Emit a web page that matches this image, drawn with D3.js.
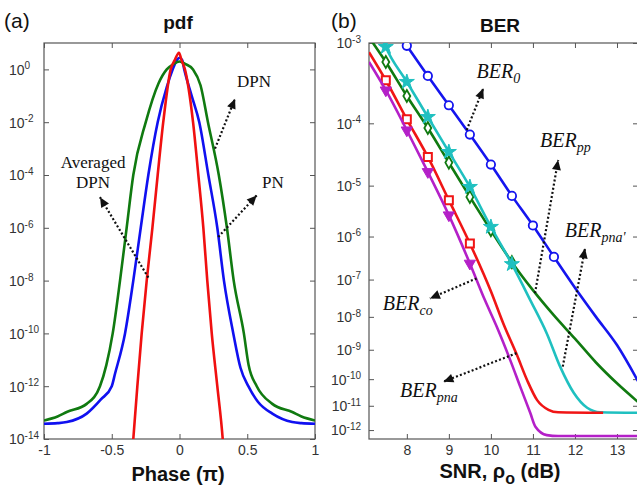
<!DOCTYPE html>
<html><head><meta charset="utf-8">
<script src="https://cdn.jsdelivr.net/npm/d3@7"></script>
<style>body{margin:0;background:#fff}svg{display:block}</style>
</head><body><svg id="c" width="637" height="489"></svg>
<script>
// ================= DATA =================
// Panel (a): pdf vs phase (units of pi)
const phasePN = [-1,-0.9,-0.832,-0.685,-0.58,-0.5,-0.476,-0.402,-0.341,-0.286,-0.23,-0.161,-0.094,-0.05,-0.02,0,0.02,0.035,0.09,0.146,0.213,0.279,0.328,0.397,0.45,0.508,0.58,0.685,0.832,0.9,1];
const pdfPN   = [3.80e-14,3.98e-14,4.37e-14,9.12e-14,3.16e-13,1e-12,2.95e-12,1e-10,1e-8,1e-6,1e-4,1e-2,0.214,1,2.24,2.75,2.24,1,0.1,1e-2,1e-4,1e-6,1e-8,1e-10,5.0e-12,1e-12,2.51e-13,9.12e-14,4.37e-14,3.98e-14,3.80e-14];

const phaseDPN = [-1,-0.9,-0.832,-0.685,-0.587,-0.54,-0.493,-0.439,-0.39,-0.341,-0.249,-0.156,-0.094,-0.045,0,0.045,0.10,0.155,0.21,0.29,0.35,0.40,0.475,0.51,0.57,0.685,0.832,0.9,1];
const pdfDPN   = [5.01e-14,7.08e-14,1.05e-13,2.14e-13,1e-12,6.31e-12,1e-10,1e-8,1e-6,1e-4,1e-2,0.288,1,1.585,2.0,1.585,1,0.251,1e-2,1e-4,1e-6,1e-8,1e-10,6.31e-12,1e-12,2.14e-13,1.05e-13,7.08e-14,5.01e-14];

const phaseAvg = [-0.356,-0.341,-0.311,-0.279,-0.242,-0.2,-0.161,-0.12,-0.065,-0.035,-0.004,0.015,0.04,0.10,0.139,0.176,0.205,0.238,0.279,0.319,0.333];
const pdfAvg   = [1e-15,1e-14,1e-12,1e-10,1e-8,1e-6,1e-4,1e-2,1,2.24,4.27,2.24,1,1e-2,1e-4,1e-6,1e-8,1e-10,1e-12,1e-14,1e-15];

const phaseTicks = [-1,-0.5,0,0.5,1];
const pdfTickExp = [0,-2,-4,-6,-8,-10,-12,-14];

// Panel (b): BER vs SNR (dB)
const snr0 = [8,8.5,9,9.5,10,10.5,11,11.5,12,12.5,13,13.5];
const ber0 = [9.33e-4,4.21e-4,1.78e-4,6.85e-5,2.31e-5,6.50e-6,1.71e-6,3.52e-7,6.2e-8,1.0e-8,1.41e-9,8.5e-11];
const mk0  = [8,8.5,9,9.5,10,10.5,11,11.5];

const snrPP = [7.15,7.5,8,8.5,9,9.5,10,10.5,11,11.5,12,12.5,13,13.5];
const berPP = [1.07e-3,6.15e-4,2.36e-4,8.57e-5,2.49e-5,6.22e-6,1.36e-6,2.65e-7,5.37e-8,1.10e-8,2.24e-9,3.80e-10,7.08e-11,1.41e-11];
const mkPP  = [7.5,8,8.5,9,9.5,10,10.5];

const snrPnaP = [7.4,7.5,8,8.5,9,9.5,10,10.5,10.94,11.33,11.65,11.97,12.29,12.6,13.5];
const berPnaP = [1.17e-3,9.06e-4,3.56e-4,1.23e-4,3.70e-5,9.48e-6,1.60e-6,2.38e-7,2.88e-8,3.24e-9,2.69e-10,3.16e-11,8.32e-12,5.50e-12,5.25e-12];
const mkPnaP  = [7.5,8,8.5,9,9.5,10,10.5];

const snrPna = [7.1,7.5,8,8.5,9,9.5,10,10.3,10.62,10.86,11.1,11.37,11.6,12.67];
const berPna = [7.94e-4,3.73e-4,1.14e-4,3.08e-5,5.40e-6,7.08e-7,5.01e-8,6.2e-9,6.7e-10,9.33e-11,1.66e-11,6.92e-12,5.50e-12,5.25e-12];
const mkPna  = [7.5,8,8.5,9,9.5];

const snrCo = [7.1,7.5,8,8.5,9,9.5,9.86,10.14,10.46,10.70,10.94,11.06,11.33,11.6,13.5];
const berCo = [6.15e-4,2.80e-4,7.94e-5,1.74e-5,2.77e-6,2.47e-7,2.88e-8,5.13e-9,4.57e-10,5.25e-11,5.01e-12,1.38e-12,6.03e-13,5.50e-13,5.50e-13];
const mkCo  = [7.5,8,8.5,9,9.5];

const snrTicks = [8,9,10,11,12,13];
const berTickExp = [-3,-4,-5,-6,-7,-8,-9,-10,-11,-12];

// ================= DRAW =================
const svg = d3.select("#c");
const sans = "'Liberation Sans', Arial, Helvetica, sans-serif";
const serif = "'Liberation Serif', 'Times New Roman', serif";
const frameCol = "#555", tickTxt = "#333";

// ---------- Panel (a) ----------
const xA = d3.scaleLinear().domain([-1,1]).range([44,315]);
const yA = d3.scaleLog().domain([1e-14,1e1]).range([439,43]);

const gA = svg.append("g");
gA.append("clipPath").attr("id","clipA").append("rect")
  .attr("x",44).attr("y",43).attr("width",271).attr("height",396);

gA.append("g").attr("transform","translate(0,439)")
  .call(d3.axisBottom(xA).tickValues(phaseTicks).tickSizeInner(-5).tickSizeOuter(0).tickPadding(6)
  .tickFormat(d=>d===0?"0":String(d)));
gA.append("g").attr("transform","translate(0,43)")
  .call(d3.axisTop(xA).tickValues(phaseTicks).tickSizeInner(-5).tickSizeOuter(0).tickFormat(""));
const axA_l = gA.append("g").attr("transform","translate(44,0)")
  .call(d3.axisLeft(yA).tickValues(pdfTickExp.map(e=>Math.pow(10,e))).tickSizeInner(-5).tickSizeOuter(0));
gA.append("g").attr("transform","translate(315,0)")
  .call(d3.axisRight(yA).tickValues(pdfTickExp.map(e=>Math.pow(10,e))).tickSizeInner(-5).tickSizeOuter(0).tickFormat(""));
axA_l.selectAll(".tick text").each(function(d){
  const t = d3.select(this);
  const e = Math.round(Math.log10(d));
  t.text(null).attr("x",-35).attr("text-anchor","start").attr("dy","0.35em");
  t.append("tspan").text("10");
  t.append("tspan").attr("dy","-0.55em").attr("font-size",10).text(String(e));
});

gA.append("rect").attr("x",44).attr("y",43).attr("width",271).attr("height",396)
  .attr("fill","none").attr("stroke",frameCol).attr("stroke-width",1.2);

const lineA = d3.line().x(d=>xA(d[0])).y(d=>yA(d[1])).curve(d3.curveMonotoneX);
const pdfSeries = [
  {ph:phasePN, v:pdfPN, c:"#1010f0"},
  {ph:phaseDPN, v:pdfDPN, c:"#107a10"},
  {ph:phaseAvg, v:pdfAvg, c:"#f01010"}
];
pdfSeries.forEach(s=>{
  gA.append("path").attr("clip-path","url(#clipA)")
    .datum(s.ph.map((p,i)=>[p,s.v[i]]))
    .attr("d",lineA).attr("fill","none").attr("stroke",s.c).attr("stroke-width",2.6)
    .attr("stroke-linejoin","round");
});

// ---------- Panel (b) ----------
const xB = d3.scaleLinear().domain([7.1,13.5]).range([369,638]);
const tB = d3.scaleLog().domain([3,12.39]).range([43,439]);   // log-log BER axis: position by log(-log10 BER)
const yB = v => tB(-Math.log10(v));

const gB = svg.append("g");
gB.append("clipPath").attr("id","clipB").append("rect")
  .attr("x",369).attr("y",43).attr("width",269).attr("height",396);

gB.append("g").attr("transform","translate(0,439)")
  .call(d3.axisBottom(xB).tickValues(snrTicks).tickSizeInner(-5).tickSizeOuter(0).tickPadding(6)
  .tickFormat(d3.format("d")));
gB.append("g").attr("transform","translate(0,43)")
  .call(d3.axisTop(xB).tickValues(snrTicks).tickSizeInner(-5).tickSizeOuter(0).tickFormat(""));
const axB_l = gB.append("g").attr("transform","translate(369,0)")
  .call(d3.axisLeft(tB).tickValues(berTickExp.map(e=>-e)).tickSizeInner(-5).tickSizeOuter(0));
gB.append("g").attr("transform","translate(638,0)")
  .call(d3.axisRight(tB).tickValues(berTickExp.map(e=>-e)).tickSizeInner(-5).tickSizeOuter(0).tickFormat(""));
axB_l.selectAll(".tick text").each(function(d){
  const t = d3.select(this);
  t.text(null).attr("x",-8).attr("text-anchor","end").attr("dy","0.35em");
  t.append("tspan").text("10");
  t.append("tspan").attr("dy","-0.55em").attr("font-size",10).text("-"+d);
});

gB.append("rect").attr("x",369).attr("y",43).attr("width",269).attr("height",396)
  .attr("fill","none").attr("stroke",frameCol).attr("stroke-width",1.2);

// style axes
svg.selectAll(".domain").remove();
svg.selectAll(".tick line").attr("stroke",frameCol).attr("stroke-width",1);
svg.selectAll(".tick text").attr("fill",tickTxt).attr("font-size",14).attr("font-family",sans);

const lineB = d3.line().x(d=>xB(d[0])).y(d=>yB(d[1])).curve(d3.curveMonotoneX);
const berSeries = [
  {x:snr0, v:ber0, mk:mk0, c:"#1515ee", m:"circle"},
  {x:snrPP, v:berPP, mk:mkPP, c:"#107a10", m:"diamond"},
  {x:snrPnaP, v:berPnaP, mk:mkPnaP, c:"#1fc0c0", m:"star"},
  {x:snrPna, v:berPna, mk:mkPna, c:"#f01515", m:"square"},
  {x:snrCo, v:berCo, mk:mkCo, c:"#b420c8", m:"tri"}
];
const clipG = gB.append("g").attr("clip-path","url(#clipB)");
berSeries.forEach(s=>{
  const pts = s.x.map((x,i)=>[x,s.v[i]]);
  clipG.append("path").datum(pts).attr("d",lineB).attr("fill","none")
    .attr("stroke",s.c).attr("stroke-width",2.6).attr("stroke-linejoin","round");
  const mpts = pts.filter(p=>s.mk.includes(p[0]));
  const mg = clipG.append("g");
  mpts.forEach(p=>{
    const cx = xB(p[0]), cy = yB(p[1]);
    if(s.m==="circle"){
      mg.append("circle").attr("cx",cx).attr("cy",cy).attr("r",4.2)
        .attr("fill","#fff").attr("stroke",s.c).attr("stroke-width",1.8);
    } else if(s.m==="square"){
      mg.append("path").attr("d",d3.symbol(d3.symbolSquare,64)()).attr("transform",`translate(${cx},${cy})`)
        .attr("fill","#fff").attr("stroke",s.c).attr("stroke-width",2);
    } else if(s.m==="diamond"){
      mg.append("path").attr("d",d3.symbol(d3.symbolDiamond,42)()).attr("transform",`translate(${cx},${cy})`)
        .attr("fill","#fff").attr("stroke",s.c).attr("stroke-width",1.8);
    } else if(s.m==="star"){
      mg.append("path").attr("d",d3.symbol(d3.symbolStar,70)()).attr("transform",`translate(${cx},${cy})`)
        .attr("fill",s.c).attr("stroke",s.c).attr("stroke-width",1);
    } else if(s.m==="tri"){
      mg.append("path").attr("d",d3.symbol(d3.symbolTriangle,55)()).attr("transform",`translate(${cx},${cy}) rotate(180)`)
        .attr("fill",s.c).attr("stroke",s.c).attr("stroke-width",1);
    }
  });
});

// ---------- Annotations ----------
function arrow(x1,y1,x2,y2){
  svg.append("line").attr("x1",x1).attr("y1",y1).attr("x2",x2).attr("y2",y2)
    .attr("stroke","#111").attr("stroke-width",2.2).attr("stroke-dasharray","2,2.2");
  const a = Math.atan2(y2-y1,x2-x1), L=10, W=4.5;
  const bx = x2-L*Math.cos(a), by = y2-L*Math.sin(a);
  const px = -Math.sin(a)*W, py = Math.cos(a)*W;
  svg.append("path").attr("d",`M${x2},${y2}L${bx+px},${by+py}L${bx-px},${by-py}Z`).attr("fill","#111");
}
// panel (a) annotations in data units [phase, pdf]
const annA = [
  {from:[0.262,1e-3], to:[0.41,7.8e-2]},
  {from:[0.286,4.5e-7], to:[0.57,1.7e-5]},
  {from:[-0.23,1.3e-8], to:[-0.587,1.45e-5]}
];
annA.forEach(a=>arrow(xA(a.from[0]),yA(a.from[1]),xA(a.to[0]),yA(a.to[1])));
const txtA = [
  {t:"DPN", p:[0.424,0.21], anchor:"start"},
  {t:"PN", p:[0.609,3.1e-5], anchor:"start"},
  {t:"Averaged", p:[-0.638,1.78e-4], anchor:"middle"},
  {t:"DPN", p:[-0.638,3.1e-5], anchor:"middle"}
];
txtA.forEach(a=>svg.append("text").attr("x",xA(a.p[0])).attr("y",yA(a.p[1]))
  .attr("text-anchor",a.anchor).attr("font-family",serif).attr("font-size",17).attr("fill","#111").text(a.t));

// panel (b) annotations in data units [snr, BER]
const annB = [
  {from:[9.425,8.0e-5], to:[9.82,2.96e-4]},
  {from:[11.05,4.47e-8], to:[11.60,2.75e-5]},
  {from:[11.71,2.75e-10], to:[12.24,5.5e-7]},
  {from:[9.66,1.07e-7], to:[8.55,3.24e-8]},
  {from:[10.61,7.76e-10], to:[8.87,8.1e-11]}
];
annB.forEach(a=>arrow(xB(a.from[0]),yB(a.from[1]),xB(a.to[0]),yB(a.to[1])));
const txtB = [
  {sub:"0", p:[9.66,3.98e-4]},
  {sub:"pp", p:[11.17,4.47e-5]},
  {sub:"pna'", p:[11.76,9.77e-7]},
  {sub:"co", p:[7.43,1.55e-8]},
  {sub:"pna", p:[7.84,2.24e-11]}
];
txtB.forEach(a=>{
  const t = svg.append("text").attr("x",xB(a.p[0])).attr("y",yB(a.p[1]))
    .attr("font-family",serif).attr("font-style","italic").attr("font-size",20).attr("fill","#111");
  t.append("tspan").text("BER");
  t.append("tspan").attr("dy",5).attr("font-size",14).text(a.sub);
});

// ---------- Titles & labels ----------
svg.append("text").attr("x",4).attr("y",28).attr("font-family",sans).attr("font-size",21).attr("fill","#111").text("(a)");
svg.append("text").attr("x",331).attr("y",28).attr("font-family",sans).attr("font-size",21).attr("fill","#111").text("(b)");
svg.append("text").attr("x",178).attr("y",29).attr("text-anchor","middle").attr("font-family",sans)
  .attr("font-weight","bold").attr("font-size",19).attr("fill","#111").text("pdf");
svg.append("text").attr("x",500).attr("y",32).attr("text-anchor","middle").attr("font-family",sans)
  .attr("font-weight","bold").attr("font-size",19).attr("fill","#111").text("BER");
svg.append("text").attr("x",178).attr("y",481).attr("text-anchor","middle").attr("font-family",sans)
  .attr("font-weight","bold").attr("font-size",20).attr("fill","#111").text("Phase (π)");
const xl = svg.append("text").attr("x",500).attr("y",478).attr("text-anchor","middle").attr("font-family",sans)
  .attr("font-weight","bold").attr("font-size",20).attr("fill","#111");
xl.append("tspan").text("SNR, ρ");
xl.append("tspan").attr("dy",6).attr("font-size",16).text("o");
xl.append("tspan").attr("dy",-6).text(" (dB)");
</script></body></html>
